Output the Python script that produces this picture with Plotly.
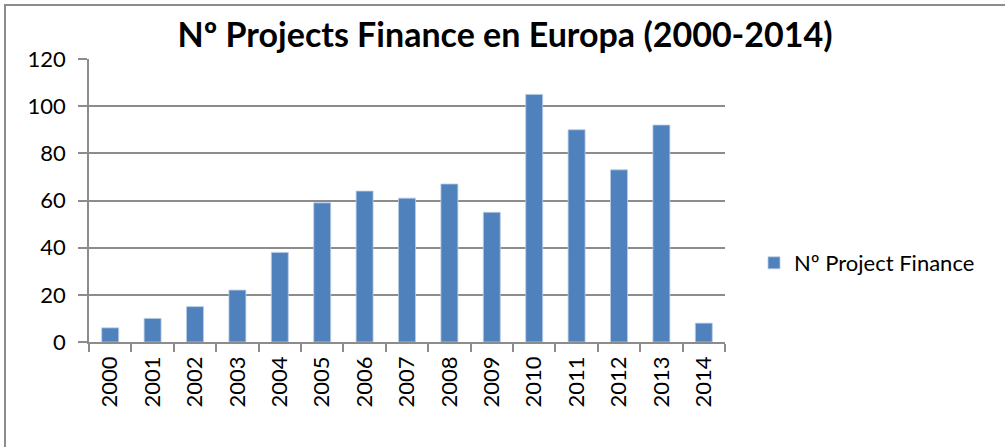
import plotly.graph_objects as go

years = ["2000", "2001", "2002", "2003", "2004", "2005", "2006", "2007",
         "2008", "2009", "2010", "2011", "2012", "2013", "2014"]
projects = [6, 10, 15, 22, 38, 59, 64, 61, 67, 55, 105, 90, 73, 92, 8]
y_ticks = [0, 20, 40, 60, 80, 100, 120]

W, H = 1006, 448
L, R, T, B = 89, 281, 59, 106
pw, ph = W - L - R, H - T - B

fig = go.Figure()
fig.add_trace(go.Bar(
    x=years, y=projects, name="Nº Project Finance",
    marker=dict(color="#4F81BD", line=dict(color="#B9CDE5", width=0.8)),
))

grid = "#8C8C8C"
fig.update_layout(
    width=W, height=H,
    margin=dict(l=L, r=R, t=T, b=B, autoexpand=False),
    paper_bgcolor="white", plot_bgcolor="white",
    font=dict(family="Lato, Open Sans, sans-serif", size=22, color="black"),
    title=dict(text="<b>Nº Projects Finance en Europa (2000-2014)</b>",
               x=0.502, xanchor="center", y=1 - 35 / H, yanchor="middle",
               font=dict(size=34, family="Lato, Open Sans, sans-serif")),
    bargap=0.6,
    showlegend=True,
    legend=dict(x=(754 - L) / pw, xanchor="left", y=(H - 263 - B) / ph, yanchor="middle",
                font=dict(size=22), bgcolor="rgba(0,0,0,0)", itemwidth=30),
    xaxis=dict(type="category", tickangle=-90, showgrid=False,
               showline=True, linecolor=grid, linewidth=1.5,
               ticks="outside", tickson="boundaries", ticklen=8, tickcolor=grid,
               tickwidth=1.5, tickfont=dict(size=22), ticklabelstandoff=4),
    yaxis=dict(range=[0, 120], tickvals=y_ticks, showgrid=True, gridcolor=grid,
               gridwidth=1.5, showline=True, linecolor=grid, linewidth=1.5,
               ticks="outside", ticklen=9, tickcolor=grid, tickwidth=1.5,
               tickfont=dict(size=22), zeroline=False, ticklabelstandoff=8),
    shapes=[
        dict(type="line", xref="paper", yref="paper",
             x0=(4 - L) / pw, x1=(W - 1 - L) / pw,
             y0=(H - 5 - B) / ph, y1=(H - 5 - B) / ph,
             line=dict(color="#8C8C8C", width=2)),
        dict(type="line", xref="paper", yref="paper",
             x0=(5 - L) / pw, x1=(5 - L) / pw,
             y0=(H - 4 - B) / ph, y1=(1 - B) / ph,
             line=dict(color="#8C8C8C", width=2)),
    ],
)

fig.write_html(
    "out.html",
    config={"displayModeBar": False},
    post_script="document.body.style.margin='0';document.body.style.overflow='hidden';",
)
